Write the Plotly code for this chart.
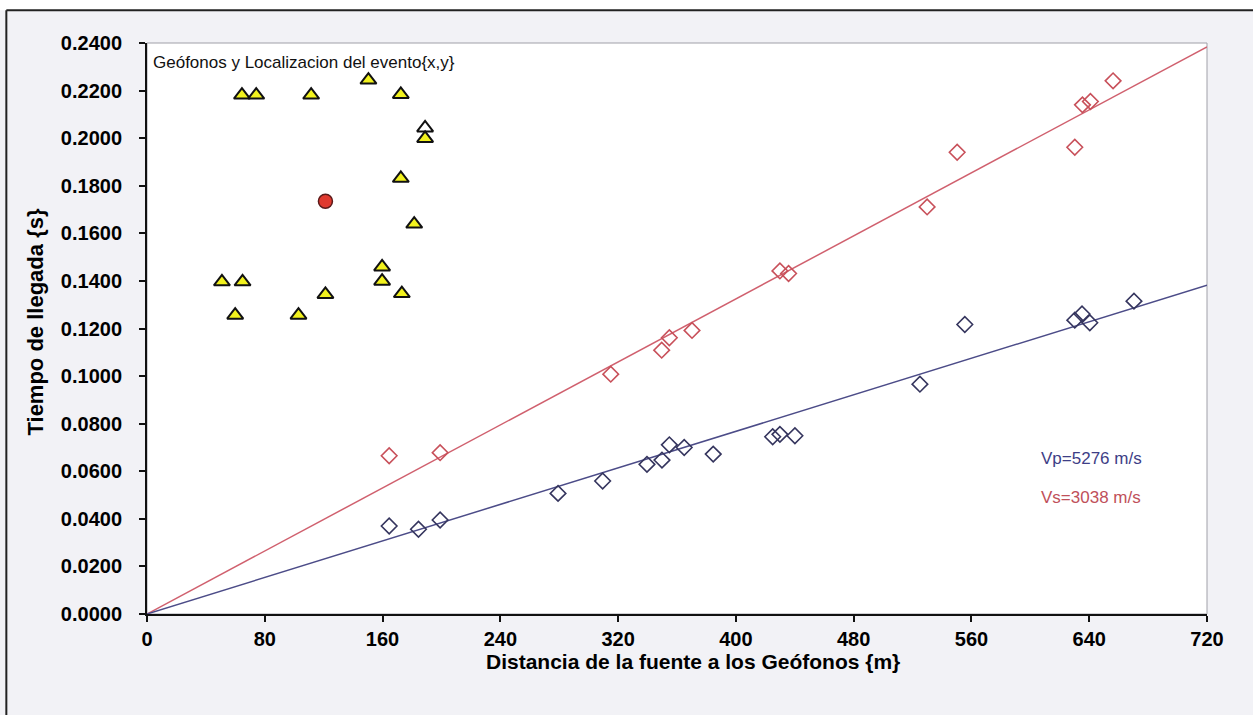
import plotly.graph_objects as go

# ---- data ----
# P-wave arrivals (distance m, time s)
p_dist = [164.5, 184.4, 199.1, 279.2, 309.5, 339.6, 349.8, 354.8, 364.9, 384.6,
          425.0, 429.9, 440.1, 525.0, 555.5, 630.2, 635.1, 640.4, 670.4]
p_time = [0.0370, 0.0356, 0.0395, 0.0507, 0.0559, 0.0629, 0.0647, 0.0711, 0.0700, 0.0672,
          0.0745, 0.0755, 0.0749, 0.0966, 0.1217, 0.1235, 0.1261, 0.1224, 0.1315]
# S-wave arrivals
s_dist = [164.5, 199.1, 315.0, 349.6, 354.8, 370.2, 429.9, 435.8, 529.9, 550.3,
          630.2, 635.4, 640.8, 656.2]
s_time = [0.0665, 0.0678, 0.1008, 0.1109, 0.1161, 0.1192, 0.1442, 0.1431, 0.1711, 0.1941,
          0.1962, 0.2140, 0.2154, 0.2241]
# fitted lines (end points)
line_dist = [0, 720]
vp_line_time = [0.0, 0.1382]
vs_line_time = [0.0, 0.2384]
# geophone positions and event location (plotted in the same frame)
geo_x = [64.5, 74.2, 111.5, 150.4, 172.4, 188.9, 172.4, 181.5, 159.7, 159.7,
         50.9, 64.9, 121.2, 173.1, 59.9, 102.9]
geo_y = [0.2181, 0.2181, 0.2181, 0.2244, 0.2184, 0.1999, 0.1831, 0.1639, 0.1459, 0.1399,
         0.1396, 0.1396, 0.1343, 0.1347, 0.1256, 0.1256]
geo_hollow_x = [188.9]
geo_hollow_y = [0.2043]
event_x = [121.2]
event_y = [0.1735]

x_ticks = [0, 80, 160, 240, 320, 400, 480, 560, 640, 720]
y_ticks = [0.00, 0.02, 0.04, 0.06, 0.08, 0.10, 0.12, 0.14, 0.16, 0.18, 0.20, 0.22, 0.24]

FONT = "Liberation Sans, Arial, sans-serif"

fig = go.Figure()
fig.add_trace(go.Scatter(x=line_dist, y=vs_line_time, mode="lines",
                         line=dict(color="#d0606e", width=1.5), hoverinfo="skip"))
fig.add_trace(go.Scatter(x=line_dist, y=vp_line_time, mode="lines",
                         line=dict(color="#4c4c88", width=1.5), hoverinfo="skip"))
fig.add_trace(go.Scatter(x=s_dist, y=s_time, mode="markers",
                         marker=dict(symbol="diamond-open", size=12, color="#c8505a",
                                     line=dict(width=1.6))))
fig.add_trace(go.Scatter(x=p_dist, y=p_time, mode="markers",
                         marker=dict(symbol="diamond-open", size=12, color="#35355e",
                                     line=dict(width=1.6))))
fig.add_trace(go.Scatter(x=geo_hollow_x, y=geo_hollow_y, mode="markers",
                         marker=dict(symbol="triangle-up", size=14, color="#ffffff",
                                     line=dict(color="#111111", width=2))))
fig.add_trace(go.Scatter(x=geo_x, y=geo_y, mode="markers",
                         marker=dict(symbol="triangle-up", size=14, color="#f2f21e",
                                     line=dict(color="#111111", width=2))))
fig.add_trace(go.Scatter(x=event_x, y=event_y, mode="markers",
                         marker=dict(symbol="circle", size=14, color="#e0392f",
                                     line=dict(color="#5a1a1a", width=1.5))))

# chart box background (scanned page look) and plot-area frame
shapes = [
    dict(type="rect", xref="paper", yref="paper", x0=-0.2, x1=1.1, y0=-0.3, y1=1.0573,
         fillcolor="#f2f2f6", line=dict(width=0), layer="below"),
    dict(type="line", xref="paper", yref="paper", x0=-0.1327, x1=1.1, y0=1.0573, y1=1.0573,
         line=dict(color="#222222", width=2)),
    dict(type="line", xref="paper", yref="paper", x0=-0.1327, x1=-0.1327, y0=-0.3, y1=1.0573,
         line=dict(color="#222222", width=2)),
    dict(type="rect", xref="paper", yref="paper", x0=0, x1=1, y0=0, y1=1,
         fillcolor="#ffffff", line=dict(color="#a0a0a8", width=1), layer="below"),
]

annotations = [
    dict(text="Geófonos y Localizacion del evento{x,y}", xref="paper", yref="paper",
         x=0.004, y=0.965, xanchor="left", yanchor="middle", showarrow=False,
         font=dict(family=FONT, size=17, color="#111111")),
    dict(text="Vp=5276 m/s", xref="paper", yref="paper",
         x=(1039 - 146.7) / 1060.6, y=(614 - 458) / 571.3, xanchor="left", yanchor="middle",
         showarrow=False, font=dict(family=FONT, size=17, color="#3e3e86")),
    dict(text="Vs=3038 m/s", xref="paper", yref="paper",
         x=(1039 - 146.7) / 1060.6, y=(614 - 497) / 571.3, xanchor="left", yanchor="middle",
         showarrow=False, font=dict(family=FONT, size=17, color="#c0505a")),
    dict(text="<b>Distancia de la fuente a los Geófonos {m}</b>", xref="paper", yref="paper",
         x=(693 - 146.7) / 1060.6, y=(614 - 662) / 571.3, xanchor="center", yanchor="middle",
         showarrow=False, font=dict(family=FONT, size=21, color="#000000")),
    dict(text="<b>Tiempo de llegada {s}</b>", xref="paper", yref="paper",
         x=(35 - 146.7) / 1060.6, y=(614 - 322) / 571.3, xanchor="center", yanchor="middle",
         textangle=-90, showarrow=False, font=dict(family=FONT, size=22, color="#000000")),
]

fig.update_layout(
    width=1253, height=715,
    margin=dict(l=147, r=46, t=43, b=101),
    paper_bgcolor="#ffffff", plot_bgcolor="rgba(0,0,0,0)",
    showlegend=False,
    shapes=shapes, annotations=annotations,
    font=dict(family=FONT),
)
fig.update_xaxes(range=[0, 720], tickvals=x_ticks, ticktext=[str(v) for v in x_ticks],
                 showgrid=False, zeroline=False, showline=True, linecolor="#111111", linewidth=2,
                 ticks="outside", ticklen=6, tickwidth=1.5, tickcolor="#111111",
                 tickfont=dict(family=FONT, size=20, color="#000000", weight="bold"))
fig.update_yaxes(range=[0, 0.24], tickvals=y_ticks, tickformat=".4f",
                 showgrid=False, zeroline=False, showline=True, linecolor="#111111", linewidth=2,
                 ticks="outside", ticklen=6, tickwidth=1.5, tickcolor="#111111",
                 ticklabelstandoff=13,
                 tickfont=dict(family=FONT, size=20, color="#000000", weight="bold"))

fig.write_html("out.html")
